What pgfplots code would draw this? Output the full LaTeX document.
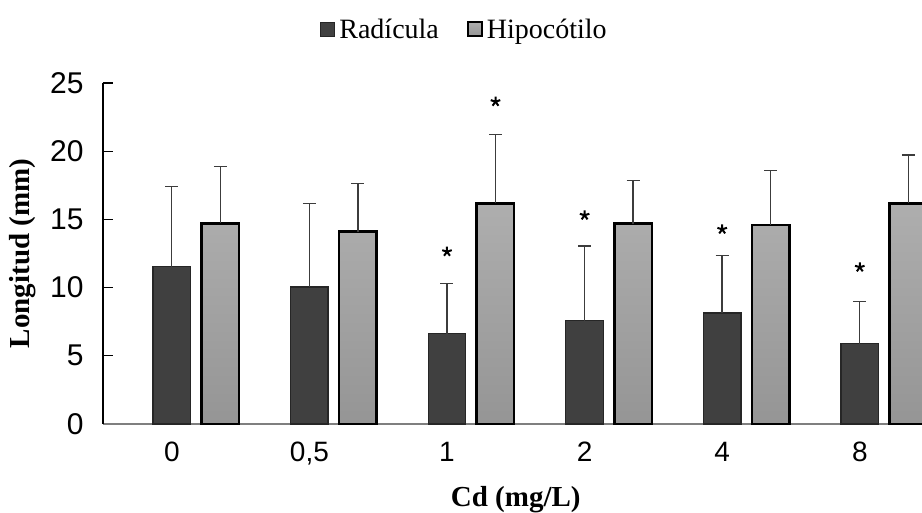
\documentclass[border=0pt]{standalone}
\usepackage{pgfplots}
\usepackage{pgfplotstable}
\pgfplotsset{compat=1.18}
\usepackage{fontspec}
\setmainfont{Liberation Serif}
\newfontfamily\arialf{Liberation Sans}
\definecolor{darkbar}{HTML}{404040}
\definecolor{darkedge}{HTML}{262626}
\definecolor{lighttop}{HTML}{AEAEAE}
\definecolor{lightbot}{HTML}{959595}
\definecolor{errc}{HTML}{3C3C3C}
\definecolor{xaxc}{HTML}{7F7F7F}
\pgfplotsset{
  darklegend/.style={legend image code/.code={\draw[fill=darkbar, draw=darkedge, line width=1.2pt] (0pt,-7pt) rectangle (14pt,7pt);}},
  lightlegend/.style={legend image code/.code={\draw[top color=lighttop, bottom color=lightbot, draw=black, line width=2pt] (0pt,-7pt) rectangle (14pt,7pt);}},
  errstyle/.style={draw=none, mark=none, forget plot,
    error bars/.cd, y dir=plus, y explicit, error mark=|,
    error bar style={draw=errc, line width=1.4pt, solid},
    error mark options={draw=errc, line width=1.4pt, mark size=6.5pt, solid}},
}

\pgfplotstableread{
x rad raderr hip hiperr
0 11.53 5.87 14.71 4.15
1 10.04 6.11 14.10 3.55
2 6.62 3.69 16.18 5.06
3 7.57 5.48 14.69 3.15
4 8.14 4.23 14.59 3.98
5 5.89 3.08 16.18 3.54
}\datatable

\pgfplotstableread{
x y
2 12.63
3 15.30
4 14.27
5 11.49
2.3525 23.63
}\startable

\begin{document}
\begin{tikzpicture}
\useasboundingbox (-103pt,-89pt) rectangle (819pt,424pt);
\clip (-103pt,-89pt) rectangle (819pt,424pt);
\begin{axis}[
  scale only axis, width=825.6pt, height=341pt,
  at={(0pt,0pt)}, anchor=south west,
  xmin=-0.5, xmax=5.5, ymin=0, ymax=25,
  clip=false,
  axis x line*=bottom, axis y line*=left,
  x axis line style={draw=xaxc, line width=1.3pt},
  y axis line style={draw=black, line width=1.2pt},
  xtick={0,...,5}, xticklabels={0,{0,5},1,2,4,8},
  ytick={0,5,...,25},
  tick align=inside,
  major tick length=10pt,
  xtick style={draw=none},
  ytick style={draw=black, line width=1.3pt},
  /pgf/number format/assume math mode=true,
  yticklabel style={font=\arialf\fontsize{30}{30}\selectfont, xshift=-16pt},
  xticklabel style={font=\arialf\fontsize{28}{28}\selectfont, yshift=-14.7pt},
  xlabel={\textbf{Cd (mg/L)}},
  xlabel style={at={(axis description cs:0.5,-0.2405)}, anchor=base, font=\fontsize{29}{29}\selectfont},
  ylabel={\textbf{Longitud (mm)}},
  ylabel style={at={(axis description cs:-0.097,0.5)}, anchor=center, font=\fontsize{29}{29}\selectfont},
  legend style={at={(0.439,1.158)}, anchor=center, draw=none, fill=none,
    legend columns=2, font=\fontsize{28}{28}\selectfont,
    /tikz/every even column/.append style={column sep=24pt},
    nodes={inner sep=4pt}},
  legend cell align=left,
]
\addplot[ybar, bar width=37.5pt, bar shift=0pt, fill=darkbar, draw=darkedge, line width=1.3pt, darklegend]
  table[x=x, y=rad] {\datatable};
\addplot[ybar, bar width=37.5pt, bar shift=48.5pt, top color=lighttop, bottom color=lightbot, draw=black, line width=2.5pt, lightlegend]
  table[x=x, y=hip] {\datatable};
\addplot[errstyle] table[x=x, y=rad, y error=raderr] {\datatable};
\addplot[errstyle] table[x expr=\thisrow{x}+0.3525, y=hip, y error=hiperr] {\datatable};
\addplot[only marks, mark=star, mark size=5pt, mark options={line width=2pt, draw=black}, forget plot]
  table[x=x, y=y] {\startable};
\pgfplotsinvokeforeach{5,10,15,20,25}{\draw[black, line width=1.3pt] (axis cs:-0.5,#1) -- ++(10pt,0pt);}
\legend{Radícula, Hipocótilo}
\end{axis}
\end{tikzpicture}
\end{document}
